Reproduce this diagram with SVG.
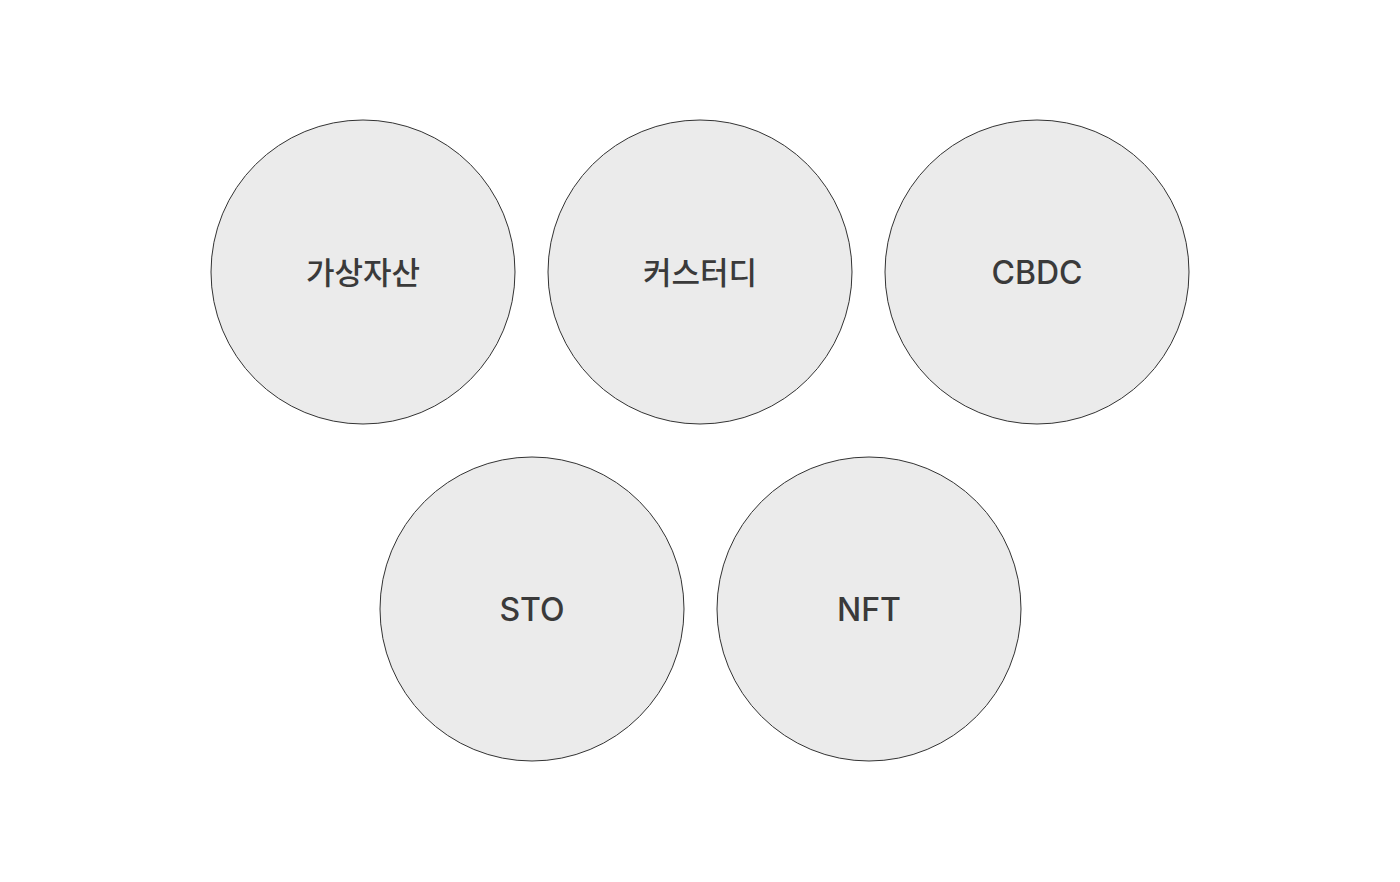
<svg xmlns="http://www.w3.org/2000/svg" width="1400" height="882" viewBox="0 0 1400 882">
<style>
.c{fill:#ebebeb;stroke:#333;stroke-width:1}
.t{font-family:Inter,"Noto Sans CJK KR",sans-serif;font-size:32px;font-weight:500;fill:#3a3a3a;text-anchor:middle}
.k{font-size:31px}
</style>
<rect width="1400" height="882" fill="#fff"/>
<g id="connectors"/>
<g id="n1"><circle class="c" cx="363" cy="272" r="152"/><text class="t k" x="363" y="284">가상자산</text></g>
<g id="n2"><circle class="c" cx="700" cy="272" r="152"/><text class="t k" x="700" y="284">커스터디</text></g>
<g id="n3"><circle class="c" cx="1037" cy="272" r="152"/><text class="t" x="1037" y="284">CBDC</text></g>
<g id="n4"><circle class="c" cx="532" cy="609" r="152"/><text class="t" x="532" y="621">STO</text></g>
<g id="n5"><circle class="c" cx="869" cy="609" r="152"/><text class="t" x="869" y="621">NFT</text></g>
</svg>
